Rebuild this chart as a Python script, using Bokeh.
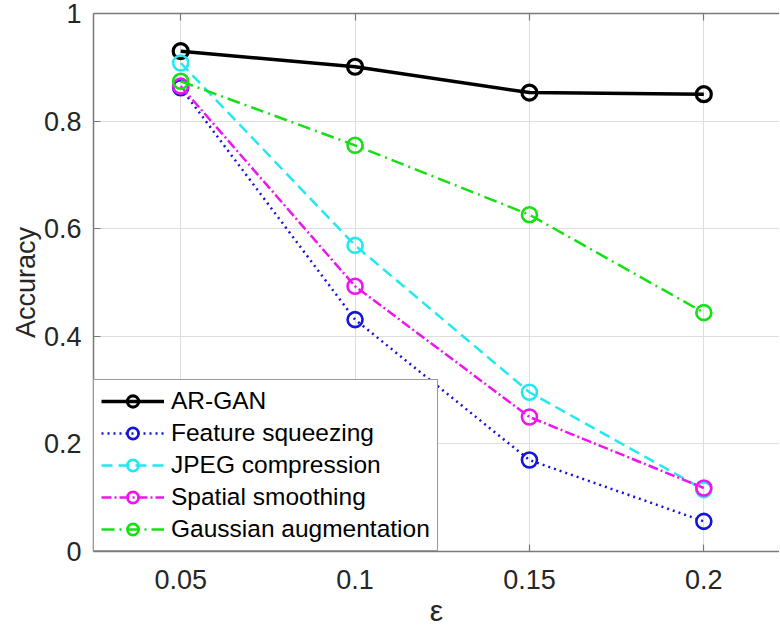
from bokeh.plotting import figure
from bokeh.models import (Range1d, LinearAxis, FixedTicker, Legend, LegendItem)
from bokeh.embed import file_html
from bokeh.resources import INLINE

# ---- data ----
eps = [0.05, 0.1, 0.15, 0.2]
ar_gan = [0.930, 0.901, 0.853, 0.850]
feature_squeezing = [0.862, 0.431, 0.170, 0.056]
jpeg_compression = [0.908, 0.569, 0.296, 0.115]
spatial_smoothing = [0.865, 0.493, 0.250, 0.118]
gaussian_augmentation = [0.874, 0.755, 0.626, 0.444]

x_ticks = [0.05, 0.1, 0.15, 0.2]
x_tick_labels = ["0.05", "0.1", "0.15", "0.2"]
y_ticks = [0, 0.2, 0.4, 0.6, 0.8, 1.0]
y_tick_labels = ["0", "0.2", "0.4", "0.6", "0.8", "1"]
x_title = "ε"
y_title = "Accuracy"

series = [
    ("AR-GAN", ar_gan, "#000000", "solid", 3.5),
    ("Feature squeezing", feature_squeezing, "#1414dc", "dotted", 2.5),
    ("JPEG compression", jpeg_compression, "#22e8f2", "11 6", 2.5),
    ("Spatial smoothing", spatial_smoothing, "#f014f0", "10 3 2 3", 2.5),
    ("Gaussian augmentation", gaussian_augmentation, "#14e014", "13 5 2 5", 2.5),
]

FONT = "Liberation Sans"
TXT = "#262626"
AX = "#7a7a7a"

p = figure(width=779, height=636, output_backend="svg", toolbar_location=None,
           x_range=Range1d(0.025, 0.2217), y_range=Range1d(0, 1),
           x_axis_location=None, y_axis_location=None,
           min_border_left=93, min_border_right=0, min_border_top=13,
           min_border_bottom=85)
p.outline_line_color = None
p.background_fill_color = "white"
p.border_fill_color = "white"

def style_axis(ax):
    ax.axis_line_color = AX
    ax.axis_line_width = 1.5
    ax.major_tick_line_color = AX
    ax.major_tick_line_width = 1.2
    ax.major_tick_in = 7
    ax.major_tick_out = 0
    ax.minor_tick_line_color = None
    ax.major_label_text_font = FONT
    ax.major_label_text_font_size = "27px"
    ax.major_label_text_color = TXT
    ax.axis_label_text_font = FONT
    ax.axis_label_text_color = TXT
    ax.axis_label_text_font_style = "normal"

xax = LinearAxis(ticker=FixedTicker(ticks=x_ticks))
xax.major_label_overrides = {t: l for t, l in zip(x_ticks, x_tick_labels)}
style_axis(xax)
xax.major_label_standoff = 18
xax.axis_label = x_title
xax.axis_label_text_font_size = "30px"
xax.axis_label_standoff = 2
p.add_layout(xax, "below")

yax = LinearAxis(ticker=FixedTicker(ticks=y_ticks))
yax.major_label_overrides = {t: l for t, l in zip(y_ticks, y_tick_labels)}
style_axis(yax)
yax.major_label_standoff = 12
yax.axis_label = y_title
yax.axis_label_text_font_size = "27px"
yax.axis_label_standoff = 0
p.add_layout(yax, "left")

tax = LinearAxis(ticker=FixedTicker(ticks=x_ticks))
style_axis(tax)
tax.major_label_text_font_size = "0px"
tax.major_label_text_color = None
p.add_layout(tax, "above")

p.xgrid.ticker = FixedTicker(ticks=x_ticks)
p.ygrid.ticker = FixedTicker(ticks=y_ticks)
for g in (p.xgrid, p.ygrid):
    g.grid_line_color = "#dedede"
    g.grid_line_width = 1

items = []
for name, vals, color, dash, lw in series:
    lr = p.line(eps, vals, line_color=color, line_dash=dash, line_width=lw)
    sr = p.scatter(eps, vals, marker="circle", size=15, fill_color=None,
                   line_color=color, line_width=2.6 if color != "#000000" else 3.2)
    items.append(LegendItem(label=name, renderers=[lr, sr]))

legend = Legend(items=items, location="bottom_left", margin=0, padding=7,
                spacing=4, glyph_width=63, glyph_height=28, label_height=28,
                label_standoff=7, label_text_font=FONT,
                label_text_font_size="24.5px", label_text_color="#000000",
                border_line_color="#333333", border_line_width=1.5,
                background_fill_color="white", background_fill_alpha=1.0)
p.add_layout(legend)

open("out.html", "w").write(file_html(p, INLINE))
